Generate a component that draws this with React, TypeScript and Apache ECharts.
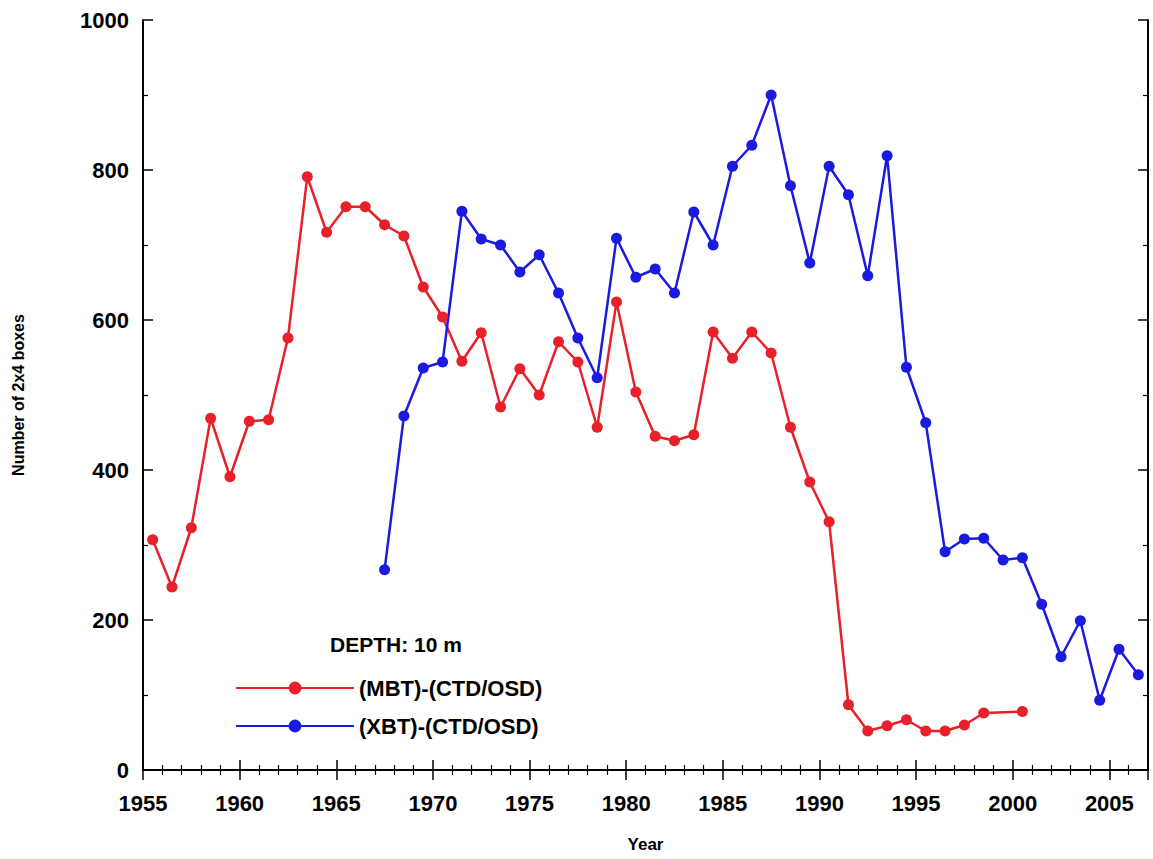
import React, { useEffect, useRef } from "react";
import * as echarts from "echarts";

const redYears = [1955.5,1956.5,1957.5,1958.5,1959.5,1960.5,1961.5,1962.5,1963.5,1964.5,1965.5,1966.5,1967.5,1968.5,1969.5,1970.5,1971.5,1972.5,1973.5,1974.5,1975.5,1976.5,1977.5,1978.5,1979.5,1980.5,1981.5,1982.5,1983.5,1984.5,1985.5,1986.5,1987.5,1988.5,1989.5,1990.5,1991.5,1992.5,1993.5,1994.5,1995.5,1996.5,1997.5,1998.5,2000.5];
const redValues = [307,244,323,469,391,465,467,576,791,717,751,751,727,712,644,604,545,583,484,535,500,571,544,457,624,504,445,439,447,584,549,584,556,457,384,331,87,52,59,67,52,52,60,76,78];
const blueYears = [1967.5,1968.5,1969.5,1970.5,1971.5,1972.5,1973.5,1974.5,1975.5,1976.5,1977.5,1978.5,1979.5,1980.5,1981.5,1982.5,1983.5,1984.5,1985.5,1986.5,1987.5,1988.5,1989.5,1990.5,1991.5,1992.5,1993.5,1994.5,1995.5,1996.5,1997.5,1998.5,1999.5,2000.5,2001.5,2002.5,2003.5,2004.5,2005.5,2006.5];
const blueValues = [267,472,536,544,745,708,700,664,687,636,576,523,709,657,668,636,744,700,805,833,900,779,676,805,767,659,819,537,463,291,308,309,280,283,221,151,199,93,161,127];

export default function App() {
  const ref = useRef<HTMLDivElement>(null);
  useEffect(() => {
    const chart = echarts.init(ref.current!, null, { renderer: "svg" });
    const font = "Liberation Sans, Arial, sans-serif";
    const axisCommon = {
      axisLine: { show: true, lineStyle: { color: "#000", width: 2 } },
      axisTick: { show: true, inside: true, length: 10, lineStyle: { color: "#000", width: 1.5 } },
      minorTick: { show: true, splitNumber: 5, length: 5, lineStyle: { color: "#000", width: 1.2 } },
      splitLine: { show: false },
    };
    const mk = (x: number[], y: number[]) => x.map((v, i) => [v, y[i]]);
    chart.setOption({
      animation: false,
      backgroundColor: "#fff",
      grid: { left: 143, right: 5, top: 20, bottom: 89 },
      xAxis: [
        { type: "value", min: 1955, max: 2007, interval: 5, ...axisCommon,
          axisLabel: { color: "#000", fontSize: 22, fontWeight: "bold", fontFamily: font, margin: 22, showMaxLabel: false, formatter: (v: number) => String(v) },
          name: "Year", nameLocation: "middle", nameGap: 66,
          nameTextStyle: { color: "#000", fontSize: 17, fontWeight: "bold", fontFamily: font } },
        { type: "value", position: "top", min: 1955, max: 2007, interval: 5, ...axisCommon, axisLabel: { show: false } },
      ],
      yAxis: [
        { type: "value", min: 0, max: 1000, interval: 200, ...axisCommon,
          minorTick: { ...axisCommon.minorTick, splitNumber: 2 },
          axisLabel: { color: "#000", fontSize: 22, fontWeight: "bold", fontFamily: font, margin: 14, formatter: (v: number) => String(v) },
          name: "Number of 2x4 boxes", nameLocation: "middle", nameGap: 117,
          nameTextStyle: { color: "#000", fontSize: 16, fontWeight: "bold", fontFamily: font } },
        { type: "value", position: "right", min: 0, max: 1000, interval: 200, ...axisCommon,
          minorTick: { ...axisCommon.minorTick, splitNumber: 2 }, axisLabel: { show: false } },
      ],
      legend: {
        orient: "vertical", left: 230, top: 672, itemWidth: 118, itemHeight: 16, itemGap: 16,
        textStyle: { color: "#000", fontSize: 22, fontWeight: "bold", fontFamily: font },
        data: ["(MBT)-(CTD/OSD)", "(XBT)-(CTD/OSD)"],
      },
      graphic: [
        { type: "text", left: 330, top: 634, style: { text: "DEPTH: 10 m", fill: "#000", fontSize: 21, fontWeight: "bold", fontFamily: font } },
      ],
      series: [
        { name: "(MBT)-(CTD/OSD)", type: "line", data: mk(redYears, redValues), color: "#e8202a",
          symbol: "circle", symbolSize: 11, lineStyle: { width: 2.5 } },
        { name: "(XBT)-(CTD/OSD)", type: "line", data: mk(blueYears, blueValues), color: "#1a1ae0",
          symbol: "circle", symbolSize: 11, lineStyle: { width: 2.5 } },
      ],
    });
    return () => chart.dispose();
  }, []);
  return <div ref={ref} style={{ width: 1153, height: 859, position: "absolute", left: 0, top: 0 }} />;
}
